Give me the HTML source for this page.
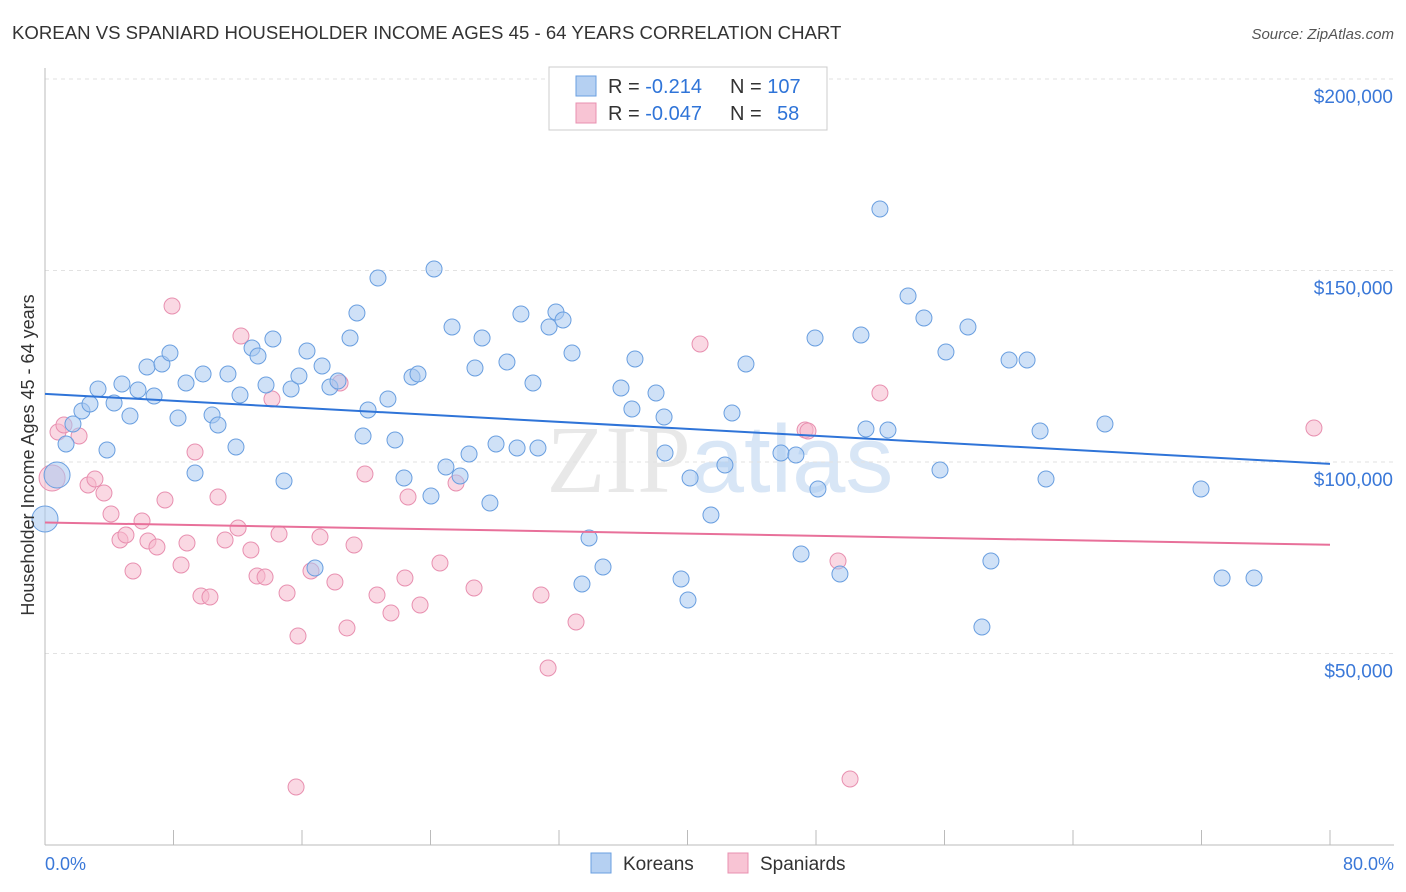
<!DOCTYPE html>
<html><head><meta charset="utf-8"><style>
body{margin:0;background:#fff;font-family:"Liberation Sans",sans-serif;}
svg{display:block}
</style></head><body>
<svg id="c" width="1406" height="892" xmlns="http://www.w3.org/2000/svg">
<text x="12" y="39" font-size="18.6" fill="#333">KOREAN VS SPANIARD HOUSEHOLDER INCOME AGES 45 - 64 YEARS CORRELATION CHART</text>
<text x="1394" y="39" font-size="15" fill="#555" font-style="italic" text-anchor="end">Source: ZipAtlas.com</text>
<text x="720" y="492" font-size="96" fill="#e8e8e8" text-anchor="middle" font-family="Liberation Serif">ZIP<tspan fill="#d8e6f6" font-family="Liberation Sans">atlas</tspan></text>
<g id="grid"></g><g id="pts"></g><g id="lines"></g>
<text transform="translate(34,455) rotate(-90)" font-size="18" fill="#333" text-anchor="middle">Householder Income Ages 45 - 64 years</text>
<text x="45" y="870" font-size="18" fill="#3a78d8">0.0%</text>
<text x="1394" y="870" font-size="18" fill="#3a78d8" text-anchor="end">80.0%</text>
<g>
<rect x="549" y="67" width="278" height="63" fill="#fff" stroke="#ccc"/>
<rect x="576" y="76" width="20" height="20" fill="#b5d0f2" stroke="#6a9fe0"/>
<rect x="576" y="103" width="20" height="20" fill="#f8c4d4" stroke="#e890b0"/>
<text x="608" y="93" font-size="20" fill="#333">R = <tspan fill="#2f74d8">-0.214</tspan><tspan x="730">N = </tspan><tspan fill="#2f74d8">107</tspan></text>
<text x="608" y="120" font-size="20" fill="#333">R = <tspan fill="#2f74d8">-0.047</tspan><tspan x="730">N = </tspan><tspan fill="#2f74d8" x="777">58</tspan></text>
</g>
<g>
<rect x="591" y="853" width="20" height="20" fill="#b5d0f2" stroke="#6a9fe0"/>
<text x="623" y="870" font-size="19" fill="#333">Koreans</text>
<rect x="728" y="853" width="20" height="20" fill="#f8c4d4" stroke="#e890b0"/>
<text x="760" y="870" font-size="19" fill="#333">Spaniards</text>
</g>
</svg>
<script>
const yTicks=[50000,100000,150000,200000];
const yTickLabels=["$50,000","$100,000","$150,000","$200,000"];
const xTicks=[0,8,16,24,32,40,48,56,64,72,80];
const koreansPx=[[45,519],[57,475],[66,444],[73,424],[82,411],[90,404],[98,389],[107,450],[114,403],[122,384],[130,416],[138,390],[147,367],[154,396],[162,364],[170,353],[178,418],[186,383],[195,473],[203,374],[212,415],[218,425],[228,374],[236,447],[240,395],[252,348],[258,356],[266,385],[273,339],[284,481],[291,389],[299,376],[307,351],[315,568],[322,366],[330,387],[338,381],[350,338],[357,313],[363,436],[368,410],[378,278],[388,399],[395,440],[404,478],[412,377],[418,374],[431,496],[434,269],[446,467],[452,327],[460,476],[469,454],[475,368],[482,338],[490,503],[496,444],[507,362],[517,448],[521,314],[533,383],[538,448],[549,327],[556,312],[563,320],[572,353],[582,584],[589,538],[603,567],[621,388],[632,409],[635,359],[656,393],[664,417],[665,453],[681,579],[688,600],[690,478],[711,515],[725,465],[732,413],[746,364],[781,453],[796,455],[801,554],[815,338],[818,489],[840,574],[861,335],[866,429],[880,209],[888,430],[908,296],[924,318],[940,470],[946,352],[968,327],[982,627],[991,561],[1009,360],[1027,360],[1040,431],[1046,479],[1105,424],[1201,489],[1222,578],[1254,578]];
const spaniardsPx=[[52,478],[58,432],[64,425],[79,436],[88,485],[95,479],[104,493],[111,514],[120,540],[126,535],[133,571],[142,521],[148,541],[157,547],[165,500],[172,306],[181,565],[187,543],[195,452],[201,596],[210,597],[218,497],[225,540],[238,528],[241,336],[251,550],[257,576],[265,577],[272,399],[279,534],[287,593],[296,787],[298,636],[311,571],[320,537],[335,582],[340,383],[347,628],[354,545],[365,474],[377,595],[391,613],[405,578],[408,497],[420,605],[440,563],[456,483],[474,588],[541,595],[548,668],[576,622],[700,344],[805,430],[808,431],[838,561],[850,779],[880,393],[1314,428]];
const X0=45,X1=1330,Y0=845,YPER=191.5/50000;
const xs=v=>X0+v/80*(X1-X0), ys=v=>Y0-v*YPER;
const invX=p=>(p-X0)/(X1-X0)*80, invY=p=>(Y0-p)/YPER;
const koreanX=koreansPx.map(p=>+invX(p[0]).toFixed(2)), koreanY=koreansPx.map(p=>Math.round(invY(p[1])));
const spaniardX=spaniardsPx.map(p=>+invX(p[0]).toFixed(2)), spaniardY=spaniardsPx.map(p=>Math.round(invY(p[1])));
const koreanTrend=[117800,99500], spaniardTrend=[84200,78400];
const NS="http://www.w3.org/2000/svg";
function mk(t,a,parent){const e=document.createElementNS(NS,t);for(const k in a)e.setAttribute(k,a[k]);document.getElementById(parent).appendChild(e);return e;}
yTicks.forEach((v,i)=>{
 const l=mk('line',{x1:45,x2:1394,y1:ys(v),y2:ys(v),stroke:'#e2e2e2','stroke-dasharray':'4,4'},'grid');
 
 
 const t=mk('text',{x:1393,y:ys(v)+24,'font-size':19,fill:'#3a78d8','text-anchor':'end'},'grid');t.textContent=yTickLabels[i];
 
 
});
const ax=mk('line',{x1:45,x2:1394,y1:845,y2:845,stroke:'#bbb'},'grid');


const ay=mk('line',{x1:45,x2:45,y1:68,y2:845,stroke:'#bbb'},'grid');


xTicks.forEach(v=>{const t=mk('line',{x1:xs(v),x2:xs(v),y1:830,y2:845,stroke:'#bbb'},'grid');
 
 });
function dots(X,Y,fill,stroke,name){X.forEach((x,i)=>{const big=(x<1.5&&name==='korean-point'&&i<2)||(x<1.5&&name==='spaniard-point'&&i<1);
 const c=mk('circle',{cx:xs(x),cy:ys(Y[i]),r:big?13:8,fill:fill,'fill-opacity':0.55,stroke:stroke,'stroke-width':1},'pts');
 
 });}
dots(spaniardX,spaniardY,'#f5b8cc','#e890b0','spaniard-point');
dots(koreanX,koreanY,'#a8c8f0','#6a9fe0','korean-point');
const kl=mk('line',{x1:xs(0),x2:xs(80),y1:ys(koreanTrend[0]),y2:ys(koreanTrend[1]),stroke:'#2f74d8','stroke-width':2},'lines');


const sl=mk('line',{x1:xs(0),x2:xs(80),y1:ys(spaniardTrend[0]),y2:ys(spaniardTrend[1]),stroke:'#e8709a','stroke-width':2},'lines');


</script>
</body></html>
